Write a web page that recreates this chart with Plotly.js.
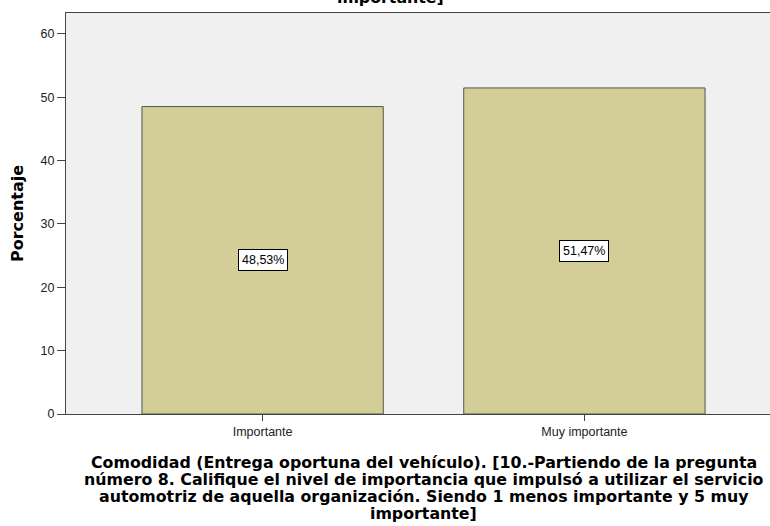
<!DOCTYPE html>
<html>
<head>
<meta charset="utf-8">
<script src="https://cdn.plot.ly/plotly-3.0.1.min.js"></script>
<style>
html, body { margin: 0; padding: 0; overflow: hidden; background: #fff; }
</style>
</head>
<body>
<div id="myDiv"></div>
<script>
// categorias y porcentajes
var categorias = ['Importante', 'Muy importante'];
var porcentajes = [48.53, 51.47];
var etiquetas = ['48,53%', '51,47%'];
var yTicks = [0, 10, 20, 30, 40, 50, 60];

// titulo del eje x, linea por linea (como en SPSS)
var lineasTitulo = [
    'Comodidad (Entrega oportuna del vehículo). [10.-Partiendo de la pregunta',
    'número 8. Califique el nivel de importancia que impulsó a utilizar el servicio',
    'automotriz de aquella organización. Siendo 1 menos importante y 5 muy',
    'importante]'
];
var fuenteTitulo = 'DejaVu Sans, Verdana, sans-serif';

var barras = {
    x: categorias,
    y: porcentajes,
    type: 'bar',
    width: 0.75,
    marker: {color: '#d3ce97', line: {color: '#555555', width: 1}},
    hoverinfo: 'none'
};

var notas = [];
for (var i = 0; i < categorias.length; i++) {
    notas.push({
        x: categorias[i],
        y: porcentajes[i] / 2,
        text: etiquetas[i],
        showarrow: false,
        bgcolor: '#ffffff',
        bordercolor: '#000000',
        borderwidth: 1,
        borderpad: 3,
        font: {family: 'Arial, Liberation Sans', size: 12.5, color: '#000'}
    });
}
for (var j = 0; j < lineasTitulo.length; j++) {
    notas.push({
        xref: 'paper', yref: 'paper',
        x: 0.5, y: 0,
        yshift: -48 - j * 17,
        xanchor: 'center', yanchor: 'middle',
        borderpad: 0,
        text: '<b>' + lineasTitulo[j] + '</b>',
        showarrow: false,
        font: {family: fuenteTitulo, size: 15.8, color: '#000'}
    });
}
// resto del titulo superior (cortado)
notas.push({
    xref: 'paper', yref: 'paper',
    x: (390 - 66) / 715, y: 1,
    yshift: 16,
    xanchor: 'center', yanchor: 'middle',
    text: '<b>importante]</b>',
    showarrow: false,
    font: {family: fuenteTitulo, size: 15.8, color: '#000'}
});

var layout = {
    width: 782,
    height: 526,
    margin: {l: 66, r: 1, t: 13, b: 112},
    paper_bgcolor: '#ffffff',
    plot_bgcolor: '#f0f0f0',
    showlegend: false,
    font: {family: 'Arial, Liberation Sans', size: 13, color: '#222'},
    xaxis: {
        type: 'category',
        range: [-0.611, 1.611],
        showline: true, mirror: true,
        linecolor: '#444', linewidth: 1,
        ticks: 'outside', ticklen: 6, tickcolor: '#444',
        showgrid: false, zeroline: false,
        tickfont: {size: 12.5, color: '#222'}
    },
    yaxis: {
        range: [0, 63.3],
        tickvals: yTicks,
        showline: true, mirror: true,
        linecolor: '#444', linewidth: 1,
        ticks: 'outside', ticklen: 8, tickcolor: '#444',
        showgrid: false, zeroline: false,
        tickfont: {size: 12.5, color: '#222'},
        title: {text: '<b>Porcentaje</b>', font: {family: fuenteTitulo, size: 16, color: '#000'}, standoff: 12}
    },
    annotations: notas
};

Plotly.newPlot('myDiv', [barras], layout, {displayModeBar: false, staticPlot: true});
</script>
</body>
</html>
